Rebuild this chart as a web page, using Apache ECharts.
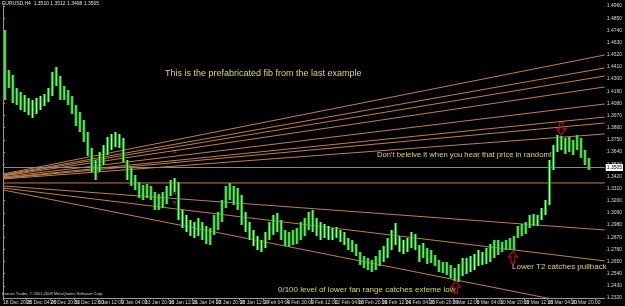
<!DOCTYPE html>
<html><head><meta charset="utf-8">
<script src="https://cdn.jsdelivr.net/npm/echarts@6/dist/echarts.min.js"></script>
<style>html,body{margin:0;padding:0;background:#000;}#c{width:625px;height:306px;}</style>
</head><body><div id="c"></div>
<script>
// price bars (high / low), one per 4px column
const highs = [1.4743,1.4381,1.4336,1.4219,1.4183,1.4155,1.4128,1.4110,1.4128,1.4146,
1.4164,1.4219,1.4363,1.4409,1.4327,1.4237,1.4201,1.4146,1.4065,1.4002,
1.3929,1.3821,1.3676,1.3568,1.3640,1.3703,1.3776,1.3803,1.3821,1.3803,
1.3767,1.3568,1.3496,1.3432,1.3369,1.3342,1.3351,1.3333,1.3279,1.3260,
1.3279,1.3333,1.3387,1.3405,1.3369,1.3116,1.3071,1.3025,1.3007,1.3044,
1.3007,1.2971,1.2953,1.3071,1.3098,1.3206,1.3333,1.3360,1.3333,1.3315,
1.3251,1.3098,1.3007,1.2935,1.2881,1.2845,1.2917,1.3007,1.3071,1.3089,
1.3025,1.2935,1.2917,1.2935,1.2953,1.3007,1.3044,1.3098,1.3116,1.3044,
1.3007,1.2989,1.2971,1.2953,1.2962,1.2935,1.2917,1.2863,1.2845,1.2808,
1.2736,1.2700,1.2682,1.2664,1.2700,1.2754,1.2790,1.2863,1.2935,1.2998,
1.2881,1.2845,1.2863,1.2917,1.2899,1.2799,1.2818,1.2772,1.2754,1.2709,
1.2664,1.2646,1.2646,1.2619,1.2591,1.2628,1.2682,1.2682,1.2700,1.2718,
1.2754,1.2736,1.2772,1.2808,1.2845,1.2845,1.2827,1.2845,1.2863,1.2881,
1.2971,1.2989,1.3007,1.3071,1.3080,1.3071,1.3134,1.3206,1.3568,1.3703,
1.3794,1.3785,1.3767,1.3776,1.3749,1.3794,1.3767,1.3658,1.3586];
const lows = [1.4110,1.4219,1.4083,1.4065,1.4020,1.4002,1.3975,1.3948,1.3984,1.4020,
1.4056,1.4092,1.4146,1.4237,1.4110,1.4110,1.4065,1.3984,1.3875,1.3821,
1.3731,1.3604,1.3459,1.3387,1.3459,1.3523,1.3613,1.3658,1.3685,1.3676,
1.3550,1.3387,1.3333,1.3297,1.3224,1.3206,1.3224,1.3206,1.3116,1.3116,
1.3134,1.3170,1.3242,1.3279,1.3025,1.2953,1.2917,1.2881,1.2863,1.2881,
1.2845,1.2808,1.2799,1.2890,1.2935,1.3007,1.3134,1.3206,1.3161,1.3116,
1.2980,1.2917,1.2845,1.2790,1.2754,1.2736,1.2772,1.2845,1.2890,1.2917,
1.2845,1.2790,1.2781,1.2799,1.2808,1.2845,1.2881,1.2935,1.2917,1.2881,
1.2845,1.2863,1.2845,1.2845,1.2863,1.2827,1.2799,1.2754,1.2736,1.2700,
1.2619,1.2591,1.2573,1.2555,1.2573,1.2610,1.2646,1.2682,1.2754,1.2799,
1.2736,1.2718,1.2736,1.2772,1.2754,1.2646,1.2682,1.2628,1.2637,1.2610,
1.2555,1.2546,1.2528,1.2501,1.2474,1.2465,1.2519,1.2537,1.2555,1.2573,
1.2610,1.2619,1.2628,1.2646,1.2682,1.2709,1.2736,1.2754,1.2754,1.2754,
1.2863,1.2881,1.2899,1.2953,1.2971,1.2971,1.3025,1.3071,1.3161,1.3477,
1.3640,1.3658,1.3622,1.3640,1.3613,1.3658,1.3586,1.3523,1.3477];
const timeLabels = ['18 Dec 2008','23 Dec 04:00','26 Dec 20:00','31 Dec 12:00','6 Jan 12:00','9 Jan 04:00',
'13 Jan 20:00','16 Jan 12:00','21 Jan 04:00','23 Jan 20:00','28 Jan 12:00','2 Feb 04:00','4 Feb 20:00',
'9 Feb 12:00','12 Feb 04:00','16 Feb 20:00','19 Feb 12:00','24 Feb 04:00','26 Feb 20:00','3 Mar 12:00',
'6 Mar 04:00','10 Mar 20:00','13 Mar 12:00','18 Mar 04:00','20 Mar 20:00'];
// fan lines: price at left edge and right edge of the chart
const upperFanLeft  = [1.3441,1.3434,1.3429,1.3423,1.3413,1.3406,1.3402,1.3396];
const upperFanRight = [1.4517,1.4400,1.4327,1.4228,1.4074,1.3956,1.3902,1.3803];
const lowerFanLeft  = [1.3333,1.3315,1.3297];
const lowerFanRight = [1.2935,1.2655,1.2216];
const hLinePrice = 1.3360;
const lastPrice = 1.3505;
const titleText = 'EURUSD,H4  1.3510 1.3512 1.3498 1.3505';
// annotation arrows
const arrowX = [141.5, 114.75, 129.25];
const arrowP = [1.3848, 1.2420, 1.2691];
const arrowDir = ['down','up','up'];

const yMin = 1.232, yMax = 1.496, yStep = 0.011;
const xMax = 152.5;

const chart = echarts.init(document.getElementById('c'), null, {renderer:'canvas'});
const fanColor = '#c0804c';
const series = [];
upperFanLeft.forEach((l,i)=>{
  series.push({type:'line', data:[[0,l],[xMax,upperFanRight[i]]], symbol:'none', lineStyle:{color:fanColor,width:1}, silent:true, z:2});
});
lowerFanLeft.forEach((l,i)=>{
  series.push({type:'line', data:[[0,l],[xMax,lowerFanRight[i]]], symbol:'none', lineStyle:{color:fanColor,width:1}, silent:true, z:2});
});
series.push({type:'line', data:[[0,hLinePrice],[xMax,hLinePrice]], symbol:'none', lineStyle:{color:fanColor,width:1}, silent:true, z:2});
series.push({
  type:'custom', z:5,
  data: highs.map((h,i)=>[i+0.5, lows[i], h]),
  renderItem:function(params, api){
    const c = api.value(0);
    const p1 = api.coord([c, api.value(2)]);
    const p2 = api.coord([c, api.value(1)]);
    const h = Math.max(1,p2[1]-p1[1]);
    return {type:'group', children:[
      {type:'rect', shape:{x:p1[0]-1.5, y:p1[1], width:3, height:h}, style:{fill:'#1c9a1c'}},
      {type:'rect', shape:{x:p1[0]-0.5, y:p1[1], width:1, height:h}, style:{fill:'#9cff9c'}}
    ]};
  },
  markLine:{symbol:'none', silent:true, animation:false, data:[{yAxis:lastPrice}],
    lineStyle:{color:'#8a8a8a', type:'solid', width:1},
    label:{show:true, position:'end', distance:1, formatter:lastPrice.toFixed(4), backgroundColor:'#fff', color:'#000', fontSize:5, padding:[1,1], fontFamily:'Liberation Sans'}}
});
series.push({
  type:'scatter', z:6,
  data: arrowX.map((x,i)=>[x, arrowP[i]]),
  symbol:function(v, p){ return arrowDir[p.dataIndex]==='down' ? 'path://M3,0 L7,0 L7,6 L10,6 L5,12 L0,6 L3,6 Z' : 'path://M5,0 L10,6 L7,6 L7,12 L3,12 L3,6 L0,6 Z'; },
  symbolSize:[9,12],
  itemStyle:{color:'rgba(0,0,0,0)', borderColor:'#e01010', borderWidth:1.2}
});

const yellow = '#e2d36c';
const txtFont = '"Liberation Sans", Arial, sans-serif';
const xLabelStyle = {show:true, color:'#d8d8d8', fontSize:5, fontFamily:txtFont, margin:2, align:'left', showMinLabel:true, showMaxLabel:false};
chart.setOption({
  animation:false,
  backgroundColor:'#000',
  grid:{left:1, right:14, top:6, bottom:8, containLabel:false},
  xAxis:[{type:'value', min:0, max:xMax, interval:6,
    axisLine:{show:true, lineStyle:{color:'#9a9a9a'}},
    axisTick:{show:true, length:2, lineStyle:{color:'#9a9a9a'}},
    splitLine:{show:false},
    axisLabel:Object.assign({}, xLabelStyle, {formatter:function(v){ const k=Math.round(v/6); return (k>0 && k<timeLabels.length) ? timeLabels[k] : ''; }})
  },{type:'value', position:'bottom', min:0, max:xMax, interval:6,
    axisLine:{show:false}, axisTick:{show:false}, splitLine:{show:false},
    axisLabel:Object.assign({}, xLabelStyle, {formatter:function(v){ return Math.round(v/6)===0 ? timeLabels[0] : ''; }})
  }],
  yAxis:[{type:'value', position:'right', min:yMin, max:yMax, interval:yStep,
    axisLine:{show:true, lineStyle:{color:'#9a9a9a'}},
    axisTick:{show:true, length:2, lineStyle:{color:'#9a9a9a'}},
    splitLine:{show:false},
    axisLabel:{color:'#d8d8d8', fontSize:5, fontFamily:txtFont, margin:2, formatter:function(v){return v.toFixed(4);}}
  },{type:'value', position:'left', min:yMin, max:yMax, interval:yStep,
    axisLine:{show:true, lineStyle:{color:'#9a9a9a'}}, axisTick:{show:false}, axisLabel:{show:false}, splitLine:{show:false}}],
  series: series,
  graphic:[
    {type:'text', left:2, top:1, style:{text:titleText, fill:'#e0e0e0', font:'5px '+txtFont}},
    {type:'text', left:2, top:292, style:{text:'Bronze Trader, © 2001-2008 MetaQuotes Software Corp.', fill:'#d0d0d0', font:'4px '+txtFont}},
    {type:'text', left:165, top:69, style:{text:'This is the prefabricated fib from the last example', fill:yellow, font:'9px '+txtFont}},
    {type:'text', left:377, top:151, style:{text:"Don't beleive it when you hear that price in random!", fill:yellow, font:'7.7px '+txtFont}},
    {type:'text', left:512, top:263, style:{text:'Lower T2 catches pullback', fill:yellow, font:'8px '+txtFont}},
    {type:'text', left:278, top:286, style:{text:'0/100 level of lower fan range catches exteme low', fill:yellow, font:'8px '+txtFont}},
    {type:'text', left:172, top:150, style:{text:'T1', fill:fanColor, font:'4px '+txtFont}},
    {type:'text', left:172, top:160, style:{text:'T1', fill:fanColor, font:'4px '+txtFont}},
    {type:'text', left:172, top:192, style:{text:'T1', fill:fanColor, font:'4px '+txtFont}},
    {type:'text', left:172, top:201, style:{text:'T1', fill:fanColor, font:'4px '+txtFont}}
  ]
});
</script></body></html>
